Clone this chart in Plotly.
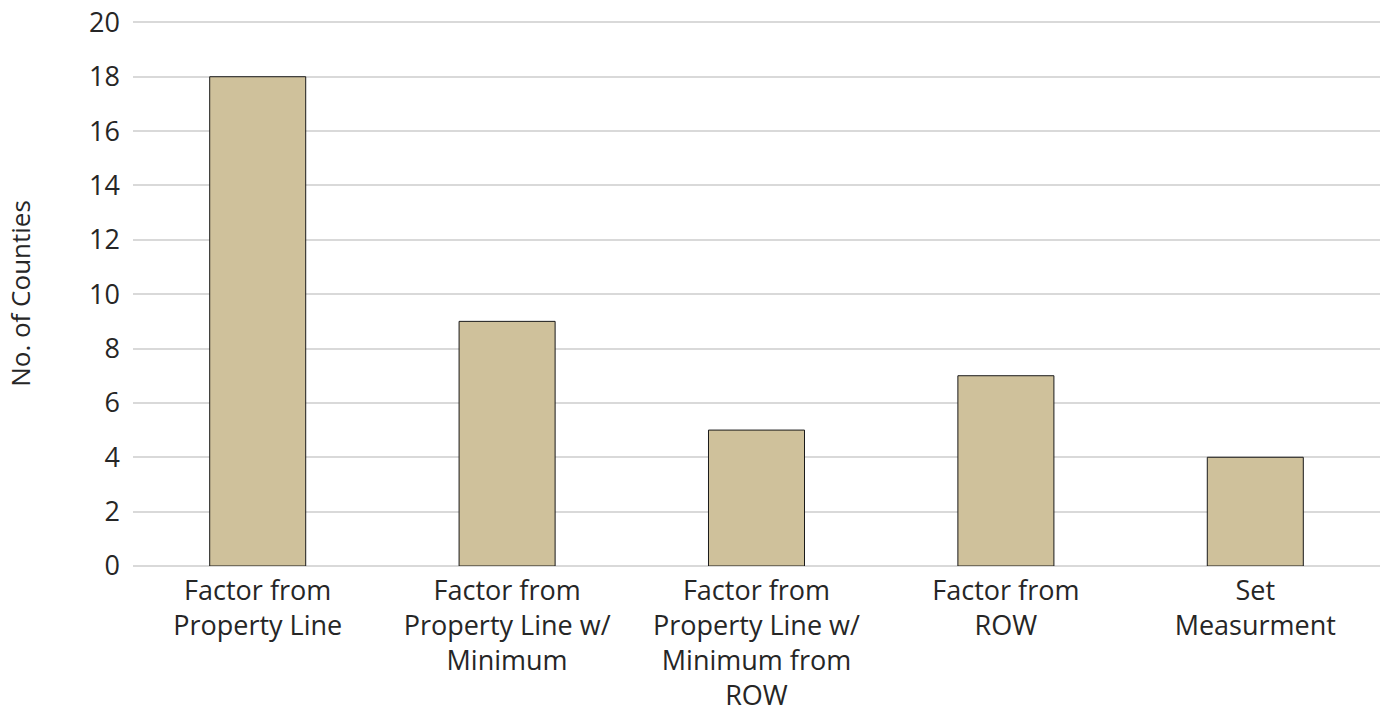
import plotly.graph_objects as go

categories = [
    "Factor from<br>Property Line",
    "Factor from<br>Property Line w/<br>Minimum",
    "Factor from<br>Property Line w/<br>Minimum from<br>ROW",
    "Factor from<br>ROW",
    "Set<br>Measurment",
]
counts = [18, 9, 5, 7, 4]
y_ticks = list(range(0, 21, 2))

font_family = "Open Sans, Lato, sans-serif"
text_color = "#262626"

fig = go.Figure(
    go.Bar(
        x=categories,
        y=counts,
        marker=dict(color="#CFC19B", line=dict(color="#1a1a1a", width=1)),
        width=0.385,
    )
)

fig.update_layout(
    width=1381,
    height=724,
    margin=dict(l=133, r=1, t=21, b=158),
    paper_bgcolor="white",
    plot_bgcolor="white",
    showlegend=False,
    font=dict(family=font_family, size=27, color=text_color),
)
fig.update_xaxes(
    showgrid=False,
    showline=False,
    ticks="",
    automargin=False,
    ticklabelstandoff=6,
    ticklabeloverflow="allow",
    tickfont=dict(size=27, color=text_color),
)
fig.update_yaxes(
    range=[0, 20.05],
    tickvals=y_ticks,
    showgrid=True,
    gridcolor="#D9D9D9",
    gridwidth=2,
    zeroline=True,
    zerolinecolor="#D9D9D9",
    zerolinewidth=2,
    showline=False,
    ticks="",
    automargin=False,
    ticklabelstandoff=12,
    ticklabeloverflow="allow",
    tickfont=dict(size=27, color=text_color),
    title=dict(text="No. of Counties", font=dict(size=26, color=text_color), standoff=51),
)

fig.write_html(
    "out.html",
    config={"displayModeBar": False},
    post_script="document.body.style.margin='0';document.body.style.overflow='hidden';",
)
